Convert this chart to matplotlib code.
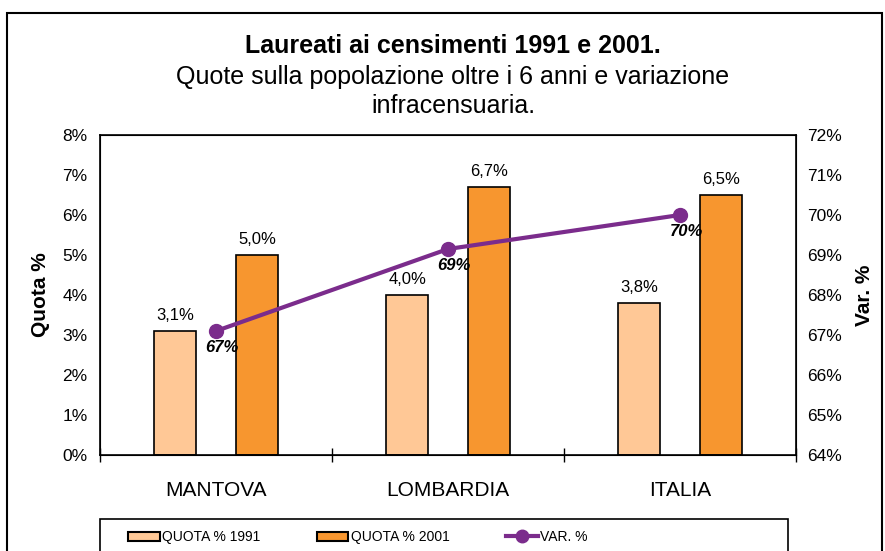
import numpy as np
import matplotlib.pyplot as plt
from matplotlib.patches import Rectangle
from matplotlib.lines import Line2D
from matplotlib.patches import Patch

plt.rcParams['font.family'] = ['Liberation Sans', 'DejaVu Sans']

# Dati
categorie = ['MANTOVA', 'LOMBARDIA', 'ITALIA']
quota_1991 = [3.1, 4.0, 3.8]
quota_2001 = [5.0, 6.7, 6.5]
var_perc = [67.1, 69.15, 70.0]
etichette_var = ['67%', '69%', '70%']

col_1991 = '#FFC896'
col_2001 = '#F7962F'
col_var = '#7B2C8C'

W, H = 885, 551
fig = plt.figure(figsize=(W / 100, H / 100), dpi=100)

# cornice esterna
fig.patches.append(Rectangle((7 / W, -0.05), 875 / W, 1.05 - 13 / H,
                             transform=fig.transFigure, fill=False,
                             edgecolor='black', linewidth=1.5))

ax = fig.add_axes([100 / W, (H - 455) / H, 696 / W, 320 / H])
x = np.arange(len(categorie))
off, bw = 0.176, 0.18

ax.bar(x - off, quota_1991, bw, color=col_1991, edgecolor='black', linewidth=1.2, zorder=2)
ax.bar(x + off, quota_2001, bw, color=col_2001, edgecolor='black', linewidth=1.2, zorder=2)

for xi, v in zip(x - off, quota_1991):
    ax.annotate(f'{v:.1f}%'.replace('.', ','), (xi, v), xytext=(0, 8),
                textcoords='offset pixels', ha='center', va='bottom', fontsize=12)
for xi, v in zip(x + off, quota_2001):
    ax.annotate(f'{v:.1f}%'.replace('.', ','), (xi, v), xytext=(0, 8),
                textcoords='offset pixels', ha='center', va='bottom', fontsize=12)

ax.set_xlim(-0.5, 2.5)
ax.set_ylim(0, 8)
ax.set_yticks(np.arange(0, 9, 1))
ax.set_yticklabels([f'{i}%' for i in range(9)])
ax.tick_params(axis='y', length=0, pad=9, labelsize=12.5)
ax.set_xticks([-0.5, 0.5, 1.5, 2.5])
ax.set_xticklabels([])
ax.tick_params(axis='x', which='major', direction='inout', length=10, width=1)
ax.set_xticks(x, minor=True)
ax.set_xticklabels(categorie, minor=True, fontsize=15)
ax.tick_params(axis='x', which='minor', length=0, pad=19)
ax.set_ylabel('Quota %', fontsize=15, fontweight='bold')
ax.yaxis.set_label_coords(-0.072, 0.5)
for s in ax.spines.values():
    s.set_linewidth(1.2)

ax2 = ax.twinx()
ax2.plot(x, var_perc, color=col_var, linewidth=3, marker='o', markersize=10, zorder=5)
for xi, v, t in zip(x, var_perc, etichette_var):
    ax2.annotate(t, (xi, v), xytext=(6, -17), textcoords='offset pixels',
                 ha='center', va='center', fontsize=12, fontweight='bold', style='italic')
ax2.set_ylim(64, 72)
ax2.set_yticks(np.arange(64, 73, 1))
ax2.set_yticklabels([f'{i}%' for i in range(64, 73)])
ax2.tick_params(axis='y', length=0, pad=8, labelsize=12.5)
ax2.set_ylabel('Var. %', fontsize=15, fontweight='bold', rotation=90)
ax2.yaxis.set_label_coords(1.085, 0.5)

# titolo
fig.text(453 / W, 1 - 46 / H, 'Laureati ai censimenti 1991 e 2001.', ha='center', va='center',
         fontsize=18, fontweight='bold')
fig.text(453 / W, 1 - 77 / H, 'Quote sulla popolazione oltre i 6 anni e variazione',
         ha='center', va='center', fontsize=18)
fig.text(453 / W, 1 - 106 / H, 'infracensuaria.', ha='center', va='center', fontsize=18)

# legenda con cornice disegnata a mano
fig.patches.append(Rectangle((100 / W, -0.05), 688 / W, 0.05 + 1 - 519 / H,
                             transform=fig.transFigure, fill=False,
                             edgecolor='black', linewidth=1.2))
handles = [Patch(facecolor=col_1991, edgecolor='black', linewidth=1.5),
           Patch(facecolor=col_2001, edgecolor='black', linewidth=1.5),
           Line2D([0], [0], color=col_var, linewidth=3, marker='o', markersize=9)]
leg = fig.legend(handles, ['QUOTA % 1991', 'QUOTA % 2001', 'VAR. %'], ncol=3,
                 loc='center left', bbox_to_anchor=(128 / W, 1 - 537 / H),
                 fontsize=10, frameon=False, borderpad=0, borderaxespad=0,
                 handlelength=2.3, handleheight=0.6, handletextpad=0.15,
                 columnspacing=4.05)

fig.savefig('out.png', dpi=100)
